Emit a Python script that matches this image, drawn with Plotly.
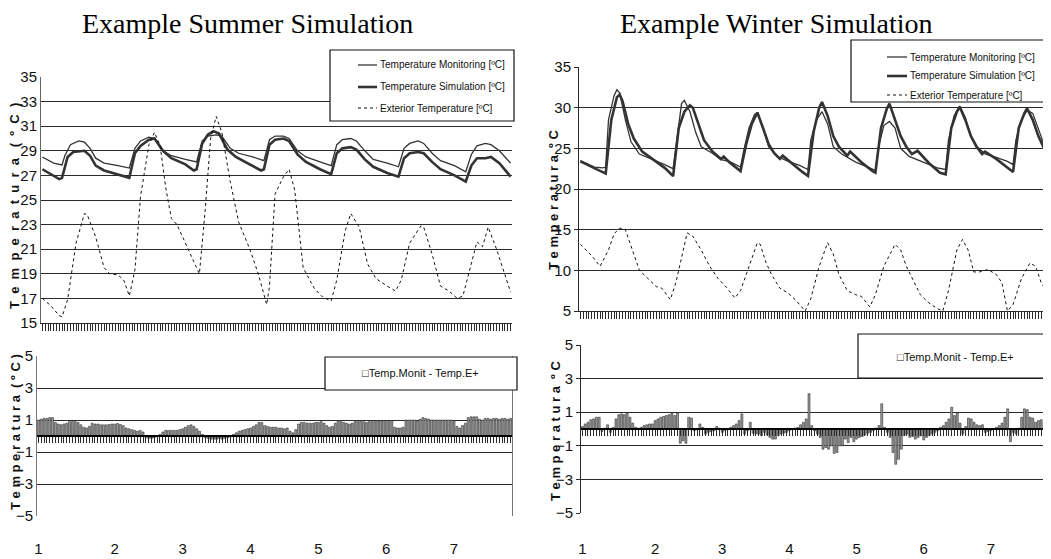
import plotly.graph_objects as go

# ---------------- data ----------------
# Summer, hourly index (0..167) breakpoints
summer_monit_h = [0, 4, 7, 8, 10, 13, 15, 17, 19, 22, 27, 31,
                  33, 35, 38, 40, 43, 46, 51, 55,
                  57, 59, 62, 64, 67, 70, 75, 79,
                  81, 83, 86, 88, 91, 94, 99, 103,
                  105, 107, 110, 112, 115, 118, 123, 127,
                  129, 131, 134, 136, 139, 142, 147, 151,
                  153, 155, 158, 160, 163, 167]
summer_monit_t = [28.5, 28.0, 27.85, 28.6, 29.5, 29.8, 29.7, 29.2, 28.4, 28.0, 27.8, 27.6,
                  29.2, 29.8, 30.1, 30.0, 29.0, 28.6, 28.3, 28.1,
                  29.8, 30.2, 30.3, 30.2, 29.2, 28.8, 28.5, 28.2,
                  29.9, 30.2, 30.2, 30.0, 29.0, 28.5, 28.1, 27.8,
                  29.5, 29.9, 30.0, 29.8, 29.0, 28.3, 28.0, 27.7,
                  29.2, 29.6, 29.8, 29.6, 28.8, 28.2, 27.8, 27.3,
                  28.7, 29.4, 29.6, 29.5, 29.0, 28.0]

summer_sim_h = [0, 3, 6, 7, 9, 11, 15, 17, 19, 22, 27, 31,
                33, 35, 38, 40, 43, 46, 51, 54, 55,
                57, 59, 61, 63, 66, 69, 74, 78, 79,
                81, 83, 86, 88, 91, 94, 99, 103,
                105, 107, 110, 112, 115, 118, 123, 127,
                129, 131, 134, 136, 139, 142, 147, 151,
                153, 155, 158, 160, 163, 167]
summer_sim_t = [27.5, 27.1, 26.7, 26.8, 28.5, 28.9, 29.0, 28.6, 27.8, 27.4, 27.1, 26.8,
                28.8, 29.4, 29.9, 30.0, 29.0, 28.4, 27.9, 27.4, 27.5,
                29.6, 30.3, 30.6, 30.4, 29.1, 28.5, 27.9, 27.4, 27.5,
                29.5, 29.9, 30.0, 29.8, 28.7, 28.1, 27.5, 27.1,
                28.8, 29.2, 29.3, 29.1, 28.3, 27.7, 27.2, 26.9,
                28.4, 28.8, 28.9, 28.8, 28.1, 27.5, 27.0, 26.5,
                27.8, 28.4, 28.4, 28.5, 28.0, 26.9]

summer_ext_h = [0, 3, 6, 7, 9, 12, 15, 16, 19, 22, 24, 27, 29, 31,
                33, 35, 38, 40, 42, 44, 46, 48, 51, 53, 56,
                58, 60, 62, 64, 67, 70, 74, 77, 80,
                81, 83, 86, 88, 90, 93, 97, 100, 103,
                105, 108, 110, 113, 116, 119, 123, 126,
                128, 131, 135, 136, 139, 142, 145, 148, 150,
                152, 155, 157, 159, 162, 165, 167]
summer_ext_t = [17.0, 16.4, 15.6, 15.5, 16.9, 21.5, 23.9, 23.8, 22.0, 19.5, 19.0, 18.9, 18.5, 17.2,
                19.3, 25.3, 29.5, 30.5, 29.4, 26.0, 23.5, 23.0, 21.5, 20.5, 19.0,
                24.0, 30.0, 31.8, 30.5, 26.5, 23.2, 21.0, 19.0, 16.5,
                18.0, 25.5, 26.9, 27.5, 25.8, 19.5, 17.8, 17.1, 16.8,
                18.5, 22.5, 23.9, 22.8, 19.8, 18.6, 18.0, 17.6,
                18.5, 21.5, 22.9, 22.8, 20.6, 18.0, 17.6, 17.0, 17.2,
                19.0, 21.6, 21.2, 22.8, 21.0, 19.0, 17.5]

summer_diff = [1.0, 1.05, 1.1, 1.1, 1.15, 1.15,
               0.85, 0.75, 0.7, 0.75, 0.8,
               0.9, 0.9, 0.9, 0.85,
               0.7, 0.55, 0.5, 0.6,
               0.8, 0.75, 0.75,
               0.7, 0.7, 0.7, 0.72, 0.75, 0.75, 0.78, 0.72, 0.65,
               0.5, 0.45, 0.4, 0.35, 0.3, 0.35, 0.25,
               -0.1, -0.15, -0.15, -0.1, -0.05,
               0.1, 0.25, 0.35, 0.35, 0.35, 0.35,
               0.35, 0.4, 0.45, 0.55, 0.65, 0.7,
               0.6, 0.45, 0.3, 0.1,
               -0.1, -0.15, -0.2, -0.2, -0.2, -0.15, -0.2, -0.15, -0.1, -0.05,
               0.1, 0.2, 0.3, 0.35, 0.4, 0.45, 0.5, 0.6, 0.7, 0.85, 0.85,
               0.65, 0.6, 0.55, 0.55, 0.55, 0.5, 0.5, 0.45, 0.5,
               0.3, 0.2, 0.4,
               0.75, 0.85, 0.85, 0.8, 0.8, 0.8, 0.85, 0.85, 0.9, 0.8,
               0.65, 0.55, 0.6, 0.8,
               0.95, 0.9, 0.85, 0.8, 0.75, 0.8, 0.9, 0.95, 0.9,
               0.9, 0.85, 0.9, 0.9, 0.9, 0.95, 0.95, 0.95, 0.9, 0.9, 0.95,
               0.55, 0.5, 0.5, 0.55,
               1.0, 1.0, 1.0, 1.0, 0.95,
               1.05, 1.15, 1.1, 1.05, 1.0, 1.0, 1.0, 1.0, 1.0, 1.0, 1.0, 1.0, 0.95,
               0.6, 0.5, 0.65, 0.8,
               1.15, 1.2, 1.2, 1.2,
               1.05, 1.0,
               1.1, 1.1, 1.05, 1.1, 1.1, 1.05, 1.1, 1.1, 1.05, 1.1]

# Winter
winter_monit_h = [0, 5, 8, 9, 10, 12, 13, 14, 16, 18, 21, 26, 30, 33,
                  34, 36, 37, 39, 41, 43, 47, 50, 53, 57,
                  58, 60, 62, 63, 65, 67, 70, 74, 78, 81,
                  82, 84, 86, 88, 90, 93, 98, 103, 105,
                  106, 108, 110, 112, 114, 117, 122, 127, 130,
                  131, 133, 135, 137, 139, 141, 144, 148, 152, 154,
                  155, 157, 159, 161, 163, 165, 167]
winter_monit_t = [23.5, 22.7, 22.6, 22.7, 28.5, 31.5, 32.2, 31.8, 28.5, 25.8, 24.3, 23.6, 23.0, 22.5,
                  25.0, 30.5, 30.9, 29.5, 27.0, 25.2, 24.4, 23.6, 23.4, 22.7,
                  24.5, 27.5, 29.2, 29.3, 27.5, 25.2, 24.0, 23.4, 22.9, 22.4,
                  26.0, 28.5, 29.5, 28.0, 25.2, 24.3, 23.3, 22.6, 22.3,
                  25.0, 27.8, 28.3, 27.5, 25.0, 24.0, 23.3, 22.6, 22.4,
                  26.0, 29.0, 30.2, 28.8, 26.5, 25.3, 24.3, 23.9, 23.4, 23.0,
                  26.0, 28.5, 29.7, 29.3, 27.5, 25.5, 24.5]

winter_sim_h = [0, 5, 9, 11, 13, 14, 15, 17, 19, 22, 26, 30, 33,
                35, 37, 39, 40, 42, 44, 47, 50, 51, 53, 57,
                59, 61, 63, 65, 67, 69, 71, 72, 75, 79, 81,
                83, 85, 86, 88, 90, 92, 95, 96, 100, 104, 105,
                107, 109, 110, 112, 114, 116, 118, 120, 124, 128, 130,
                132, 134, 135, 137, 139, 141, 143, 144, 148, 152, 154,
                156, 158, 159, 161, 163, 165, 167]
winter_sim_t = [23.4, 22.6, 21.9, 28.5, 31.3, 31.6, 30.8, 28.0, 26.2, 24.6, 23.6, 22.6, 21.6,
                27.5, 29.5, 30.3, 30.0, 28.0, 26.0, 24.6, 23.7, 24.0, 23.3, 22.2,
                25.5, 28.0, 29.4, 27.5, 25.5, 24.4, 23.7, 24.1, 23.2, 22.1, 21.6,
                27.0, 30.0, 30.7, 29.0, 26.5, 25.2, 24.1, 24.6, 23.3, 22.2, 22.0,
                27.5, 29.8, 30.5, 28.5, 26.5, 25.2, 24.3, 24.7, 23.2, 22.0, 21.8,
                27.5, 29.5, 30.1, 28.5, 26.5, 25.2, 24.3, 24.6, 23.7, 22.6, 22.1,
                27.5, 29.3, 29.9, 28.5, 26.5, 25.0, 24.2]

winter_ext_h = [0, 4, 7, 10, 12, 14, 16, 18, 21, 24, 27, 29, 32,
                34, 36, 38, 40, 43, 46, 49, 52, 55,
                57, 60, 63, 64, 66, 68, 71, 74, 77, 80,
                82, 85, 88, 90, 92, 95, 98, 100, 103,
                105, 108, 112, 114, 116, 119, 121, 124, 127, 129,
                131, 134, 136, 138, 140, 142, 145, 148, 150, 152,
                154, 157, 160, 162, 164, 166, 167]
winter_ext_t = [13.2, 11.8, 10.5, 12.5, 14.5, 15.2, 15.0, 13.0, 10.0, 9.0, 8.0, 7.8, 6.4,
                8.5, 11.5, 14.6, 14.2, 12.5, 10.5, 9.0, 7.9, 6.6,
                7.5, 10.5, 13.4, 13.2, 11.0, 9.5, 7.8, 7.2, 6.2, 5.0,
                6.5, 10.5, 13.4, 12.0, 9.5, 7.5, 7.0, 6.8, 5.5,
                7.0, 10.5, 13.2, 12.5, 10.5, 8.5, 7.0, 6.0, 5.3, 5.0,
                7.5, 12.5, 13.8, 12.5, 9.8, 9.8, 10.1, 9.5, 8.5, 5.0,
                5.8, 9.0, 10.9, 10.5, 8.5, 7.3, 7.0]

winter_diff = [0.15, 0.3, 0.4, 0.55, 0.6, 0.7, 0.7,
               -0.15, 0.05, 0.25, -0.2,
               0.1, 0.6, 0.85, 0.9, 0.85, 0.95, 0.7,
               0.35, 0.1, 0.05, 0.1, 0.2,
               0.25, 0.3, 0.3, 0.5, 0.6, 0.7, 0.75, 0.8, 0.85, 0.95, 0.8, 0.95,
               -0.85, -0.7, -0.85,
               0.7, 0.65,
               -0.1, 0.0, 0.3, 0.1, -0.3,
               -0.2, -0.15, -0.1, 0.15, 0.05,
               -0.2, -0.1, -0.05, 0.1, 0.2, 0.3, 0.5, 0.9,
               -0.3, -0.1, 0.4, -0.25, -0.3,
               -0.3, -0.4, -0.2, -0.35, -0.5, -0.6, -0.6, -0.4,
               -0.3, -0.25, -0.2, -0.1, 0.0, 0.05, 0.1,
               0.25, 0.4, 0.6, 2.1, 0.2,
               -0.1, -0.3, -0.5, -1.2, -1.1, -1.2, -1.0, -1.45, -1.4, -1.0, -1.0,
               -0.6, -0.8, -0.5, -0.75, -0.6, -0.5, -0.45, -0.35, -0.25, -0.2, -0.1, 0.05,
               0.2, 1.5, 0.1,
               -0.2, -0.5, -1.4, -2.1, -1.8, -1.2,
               -0.4, -0.3, -0.5, -0.45, -0.6, -0.5, -0.4, -0.65, -0.5, -0.4, -0.3, -0.2, -0.1,
               0.1, 0.2, 0.4, 0.6, 1.3, 0.8, 0.95, 0.35,
               -0.3, 0.15, 0.65, 0.6, 0.4, 0.25, 0.2, 0.25,
               -0.2, -0.15, -0.1, 0.0, 0.1, 0.2,
               0.35, 0.7, 1.2,
               -0.75, -0.2, -0.3, 0.05,
               0.7, 1.2, 1.15, 0.7, 0.65, 0.4, 0.5, 0.55,
               0.05, 0.0, 0.05]

day_labels = ["1", "2", "3", "4", "5", "6", "7"]
summer_label_hours = [0, 27, 51, 75, 99, 123, 147]
winter_label_hours = [0, 26, 50, 74, 98, 122, 146]

legend_names = ["Temperature Monitoring [ºC]", "Temperature Simulation [ºC]", "Exterior Temperature [ºC]"]
bar_legend_name = "Temp.Monit - Temp.E+"

# ---------------- layout helpers ----------------
# The page body has an 8px margin, so the figure is drawn 8px in from the top-left.
OFF = 8
W, H = 1051 - OFF, 559 - OFF
def fx(x):
    return (x - OFF) / W
def fy(y):
    return 1 - (y - OFF) / H

NARROW = "Liberation Sans Narrow, Arial Narrow, Liberation Sans, sans-serif"
SERIF = "Liberation Serif, Times New Roman, serif"
TICKFONT = dict(family=NARROW, size=15, color="#111")
DARK = "#2a2a2a"
NH = len(summer_diff)
hours = list(range(NH))

fig = go.Figure()

line_styles = [dict(color="#333", width=1.3),
               dict(color="#333", width=2.6),
               dict(color="#111", width=1.0, dash="dot")]

for (hx, ty), st, nm in zip([(summer_monit_h, summer_monit_t), (summer_sim_h, summer_sim_t),
                             (summer_ext_h, summer_ext_t)], line_styles, legend_names):
    fig.add_trace(go.Scatter(x=hx, y=ty, mode="lines", line=st, name=nm,
                             xaxis="x", yaxis="y", showlegend=False))
for (hx, ty), st, nm in zip([(winter_monit_h, winter_monit_t), (winter_sim_h, winter_sim_t),
                             (winter_ext_h, winter_ext_t)], line_styles, legend_names):
    fig.add_trace(go.Scatter(x=hx, y=ty, mode="lines", line=st, name=nm,
                             xaxis="x3", yaxis="y3", showlegend=False))

bar_style = dict(color="#9a9a9a", line=dict(color="#333", width=0.6))
fig.add_trace(go.Bar(x=hours, y=summer_diff, marker=bar_style, name=bar_legend_name,
                     xaxis="x2", yaxis="y2", showlegend=False))
fig.add_trace(go.Bar(x=list(range(len(winter_diff))), y=winter_diff, marker=bar_style,
                     name=bar_legend_name, xaxis="x4", yaxis="y4", showlegend=False))

def label_text(label_hours):
    out = []
    for h in hours:
        out.append(day_labels[label_hours.index(h)] if h in label_hours else "")
    return out

xr = [-0.5, NH - 0.5]
top_x = dict(range=xr, showgrid=False, zeroline=False, showticklabels=False,
             ticks="outside", tickmode="linear", tick0=0, dtick=1, ticklen=7,
             tickwidth=1, tickcolor=DARK, showline=True, linecolor=DARK, automargin=False)

def bottom_x(domain, zero_pos, label_hours, standoff):
    return dict(domain=domain, anchor="free", position=zero_pos, range=xr,
                showgrid=False, zeroline=False, tickmode="array", tickvals=hours,
                ticktext=label_text(label_hours), ticks="outside", ticklen=6,
                tickwidth=1, tickcolor=DARK, showline=True, linecolor="#000",
                linewidth=1.5, tickfont=TICKFONT, ticklabelstandoff=standoff,
                automargin=False)

grid = dict(showgrid=True, gridcolor=DARK, gridwidth=1, zeroline=False, tickfont=TICKFONT,
            automargin=False)

fig.update_layout(
    width=W, height=H, margin=dict(l=0, r=0, t=0, b=0, autoexpand=False),
    paper_bgcolor="white", plot_bgcolor="white", bargap=0.3, showlegend=False,
    xaxis=dict(domain=[fx(41), fx(512)], anchor="y", **top_x),
    yaxis=dict(domain=[fy(323), fy(77)], anchor="x", range=[15, 35], tickmode="linear",
               tick0=15, dtick=2, showline=True, linecolor="#666", ticks="", **grid),
    xaxis2=bottom_x([fx(37), fx(512)], fy(436), summer_label_hours, 93),
    yaxis2=dict(domain=[fy(516), fy(356)], anchor="x2", range=[-5, 5],
                tickvals=[-5, -3, -1, 1, 3, 5], showline=True, mirror=True,
                linecolor="#777", ticks="", **grid),
    xaxis3=dict(domain=[fx(579), 1.0], anchor="y3", **top_x),
    yaxis3=dict(domain=[fy(311), fy(67)], anchor="x3", range=[5, 35], tickmode="linear",
                tick0=5, dtick=5, showline=True, linecolor=DARK, ticks="outside",
                ticklen=4, tickcolor=DARK, **grid),
    xaxis4=bottom_x([fx(581), 1.0], fy(428.8), winter_label_hours, 100),
    yaxis4=dict(domain=[fy(513), fy(345)], anchor="x4", range=[-5, 5],
                tickvals=[-5, -3, -1, 1, 3, 5], showline=True, linecolor=DARK,
                ticks="outside", ticklen=4, tickcolor=DARK, **grid),
)

shapes = []
annotations = []

def note(x, y, text, font, **kw):
    d = dict(xref="paper", yref="paper", x=fx(x), y=fy(y), showarrow=False, text=text,
             font=font, xanchor="center", yanchor="middle")
    d.update(kw)
    annotations.append(d)

def legend_box(x0, y0, x1, y1):
    shapes.append(dict(type="rect", xref="paper", yref="paper", x0=fx(x0), x1=fx(x1),
                       y0=fy(y1), y1=fy(y0), fillcolor="white",
                       line=dict(color="#111", width=1.2), layer="above"))

def line_legend(box, sample_x, text_x, rows, fsize):
    legend_box(*box)
    for (st, nm, yy) in zip(line_styles, legend_names, rows):
        shapes.append(dict(type="line", xref="paper", yref="paper", x0=fx(sample_x[0]),
                           x1=fx(sample_x[1]), y0=fy(yy), y1=fy(yy),
                           line=dict(color=st["color"], width=st["width"],
                                     dash=st.get("dash", "solid")), layer="above"))
        note(text_x, yy, nm, dict(family=NARROW, size=fsize, color="#111"), xanchor="left")

line_legend((330, 50, 514, 121), (358, 377), 378, [65, 87, 108], 10)
line_legend((851, 40, 1070, 102), (887, 907), 908, [57, 76, 95], 10)

legend_box(325, 357, 517, 390)
note(420, 373, "□" + bar_legend_name, dict(family=NARROW, size=11, color="#111"))
legend_box(858, 334, 1070, 378)
note(955, 357, "□" + bar_legend_name, dict(family=NARROW, size=11, color="#111"))

# titles
note(247, 23, "Example Summer Simulation", dict(family=SERIF, size=28, color="#000"))
note(776, 23, "Example Winter Simulation", dict(family=SERIF, size=28, color="#000"))

# y-axis titles
ytitle_wide = "T  e  m  p  e  r  a  t  u  r  a   (  º  C  )"
ytitle_a = "T e m p e r a t u r a  ( º C )"
ytitle_b = "T e m p e r a t u r a  º C"
for xx, yy, tt in [(14, 206, ytitle_wide), (553, 200, ytitle_b), (15, 432, ytitle_a), (555, 431, ytitle_b)]:
    note(xx, yy, "<b>" + tt + "</b>",
         dict(family="Liberation Sans, Arial, sans-serif", size=13, color="#111"), textangle=-90)

fig.update_layout(shapes=shapes, annotations=annotations)
fig.write_html("out.html")
